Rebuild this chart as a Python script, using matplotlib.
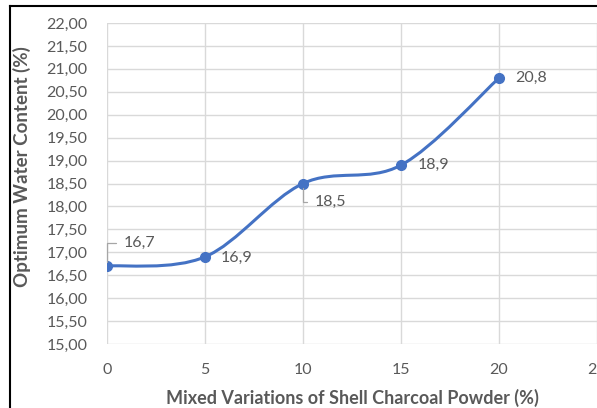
import numpy as np
import matplotlib.pyplot as plt
from matplotlib.path import Path
from matplotlib.patches import PathPatch
from matplotlib.lines import Line2D

# data
charcoal_pct = [0, 5, 10, 15, 20]
water_content = [16.7, 16.9, 18.5, 18.9, 20.8]
point_labels = ["16,7", "16,9", "18,5", "18,9", "20,8"]
# label offsets in pixels (dx, dy) and whether Excel drew a leader line
label_offsets = [(17, 23), (16, -1), (12, -18), (17, 0), (16, 0)]
has_leader = [True, False, True, False, False]

BLUE = "#4472C4"
TEXT = "#595959"
GRID = "#D9D9D9"

plt.rcParams["font.family"] = ["Lato", "DejaVu Sans"]


def smooth_path(xs, ys):
    """Excel-style smoothed line as cubic Bezier segments (Catmull-Rom)."""
    pts = np.column_stack([xs, ys]).astype(float)
    n = len(pts)
    verts = [pts[0]]
    codes = [Path.MOVETO]
    for i in range(n - 1):
        p0 = pts[i - 1] if i > 0 else pts[i]
        p1 = pts[i]
        p2 = pts[i + 1]
        p3 = pts[i + 2] if i + 2 < n else pts[i + 1]
        c1 = p1 + (p2 - p0) / 6.0
        c2 = p2 - (p3 - p1) / 6.0
        verts += [c1, c2, p2]
        codes += [Path.CURVE4] * 3
    return Path(verts, codes)


fig = plt.figure(figsize=(5.97, 4.08), dpi=100)
ax = fig.add_axes([107 / 597, 64 / 408, 490 / 597, 321 / 408])

ax.set_xlim(0, 25)
ax.set_ylim(15, 22)
ax.set_xticks(np.arange(0, 26, 5))
ax.set_yticks(np.arange(15, 22.01, 0.5))
ax.set_yticklabels([f"{v:.2f}".replace(".", ",") for v in np.arange(15, 22.01, 0.5)])
ax.grid(True, color=GRID, lw=1)
ax.set_axisbelow(True)
for s in ax.spines.values():
    s.set_visible(False)
ax.tick_params(length=0, labelsize=11.5, colors=TEXT, pad=14)
ax.tick_params(axis="x", pad=14)

ax.add_patch(PathPatch(smooth_path(charcoal_pct, water_content),
                       fill=False, edgecolor=BLUE, lw=2.2, capstyle="round"))
ax.plot(charcoal_pct, water_content, "o", color=BLUE, ms=7, zorder=3)

for x, y, lab, off, lead in zip(charcoal_pct, water_content, point_labels,
                                label_offsets, has_leader):
    kw = {}
    if lead:
        kw["arrowprops"] = dict(arrowstyle="-", color="#A6A6A6", lw=0.9,
                                connectionstyle="angle,angleA=0,angleB=90,rad=0",
                                relpos=(0, 0.5), shrinkA=4, shrinkB=3)
    ax.annotate(lab, (x, y), xytext=off, textcoords="offset pixels",
                ha="left", va="center", fontsize=11.5, color=TEXT, **kw)

ax.set_xlabel("Mixed Variations of Shell Charcoal Powder (%)", fontsize=13,
              fontweight="bold", color=TEXT, labelpad=8)
ax.set_ylabel("Optimum Water Content (%)", fontsize=13.5,
              fontweight="bold", color=TEXT, labelpad=4)
ax.yaxis.set_label_coords(-0.155, 0.553)

# outer frame of the cropped screenshot
fig.add_artist(Line2D([10 / 597, 1.0], [1 - 6 / 408, 1 - 6 / 408],
                      color="black", lw=1.5))
fig.add_artist(Line2D([10 / 597, 10 / 597], [0, 1 - 6 / 408],
                      color="black", lw=1.5))

fig.savefig("out.png", dpi=100)
